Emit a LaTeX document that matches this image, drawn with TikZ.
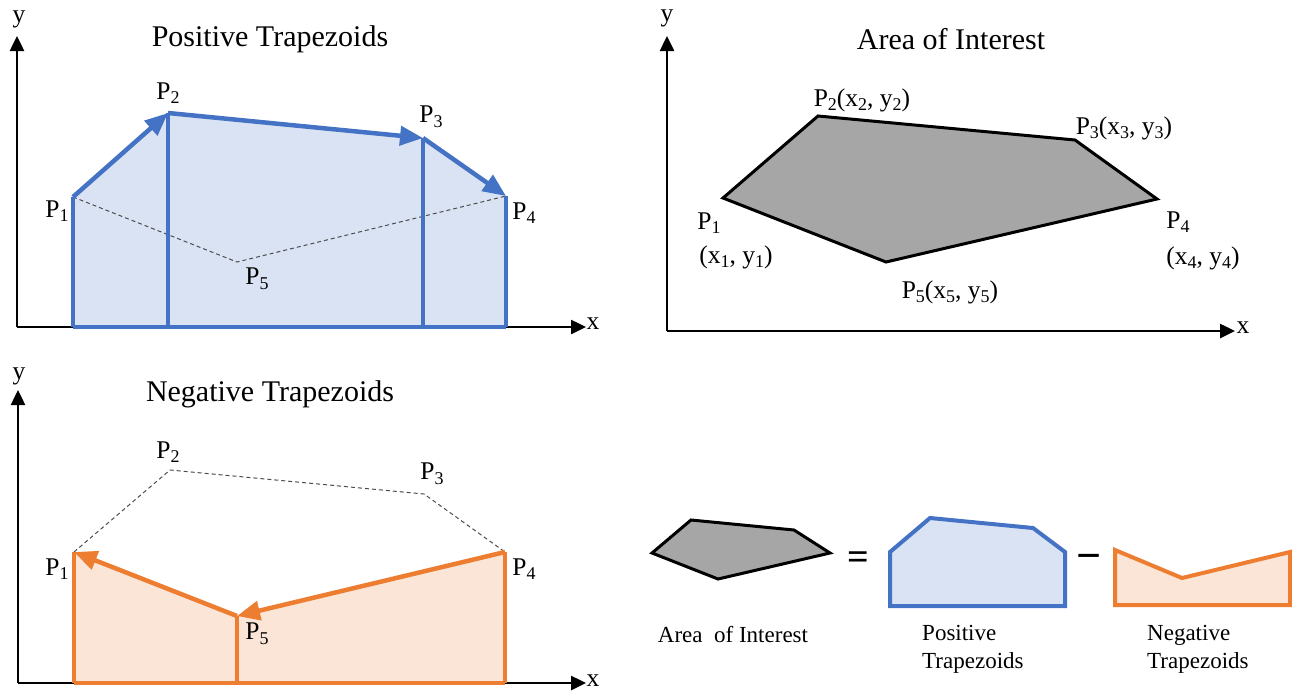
\documentclass[tikz,border=0pt]{standalone}
\usepackage{fontspec}
\setmainfont{Liberation Serif}
\usetikzlibrary{arrows.meta}
\definecolor{pblue}{HTML}{4472C4}
\definecolor{pbluefill}{HTML}{DAE3F3}
\definecolor{porange}{HTML}{ED7D31}
\definecolor{porangefill}{HTML}{FBE5D6}
\definecolor{aoigrey}{HTML}{A6A6A6}
\newcommand{\sbx}[1]{\raisebox{-0.4ex}{\fontsize{18}{18}\selectfont #1}}
\tikzset{
  axis/.style={line width=2.5pt, -{Triangle[length=15pt,width=14pt]}},
  bluearrow/.style={line width=4.5pt, pblue, -{Triangle[length=23pt,width=19pt]}},
  orangearrow/.style={line width=4.5pt, porange, -{Triangle[length=23pt,width=19pt]}},
  blueedge/.style={line width=4pt, pblue},
  orangeedge/.style={line width=4pt, porange},
  guide/.style={line width=1pt, black!70, dash pattern=on 4pt off 3pt},
  title/.style={inner sep=0pt, font=\fontsize{30}{32}\selectfont},
  lbl/.style={inner sep=0pt, font=\fontsize{25.5}{27}\selectfont},
  caption/.style={inner sep=0pt, font=\fontsize{23}{28}\selectfont, align=left},
}
\begin{document}
\begin{tikzpicture}[x=1pt, y=-1pt]
\useasboundingbox (0,0) rectangle (1292,691);

% ================= Top-left: Positive Trapezoids =================
\coordinate (o1) at (17,327);
\coordinate (ya1) at (17,36);
\coordinate (xa1) at (586,327);
\coordinate (a1) at (73,197);
\coordinate (a2) at (168,113);
\coordinate (a3) at (423,138);
\coordinate (a4) at (506,196);
\coordinate (a5) at (237,262);
\coordinate (b1) at (73,327);
\coordinate (b2) at (168,327);
\coordinate (b3) at (423,327);
\coordinate (b4) at (506,327);

\fill[pbluefill] (b1) -- (a1) -- (a2) -- (a3) -- (a4) -- (b4) -- cycle;
\draw[axis] (o1) -- (ya1);
\draw[axis] (o1) -- (xa1);
\draw[guide] (a1) -- (a5) -- (a4);
\draw[blueedge] (b1) -- (b4);
\draw[blueedge] (b1) -- (a1);
\draw[blueedge] (b2) -- (a2);
\draw[blueedge] (b3) -- (a3);
\draw[blueedge] (b4) -- (a4);
\draw[bluearrow] (a1) -- (a2);
\draw[bluearrow] (a2) -- (a3);
\draw[bluearrow] (a3) -- (a4);

\node[lbl] (ty1) at (19,19) {y};
\node[lbl] (tx1) at (593,324) {x};
\node[title] (t1) at (270,39) {Positive Trapezoids};
\node[lbl] (la1) at (57,211) {P\sbx{1}};
\node[lbl] (la2) at (168,93) {P\sbx{2}};
\node[lbl] (la3) at (431,117) {P\sbx{3}};
\node[lbl] (la4) at (524,213) {P\sbx{4}};
\node[lbl] (la5) at (257,279) {P\sbx{5}};

% ================= Top-right: Area of Interest =================
\coordinate (o2) at (667,331);
\coordinate (ya2) at (667,36);
\coordinate (xa2) at (1235,331);
\coordinate (c1) at (723,198);
\coordinate (c2) at (818,116);
\coordinate (c3) at (1075,140);
\coordinate (c4) at (1157,199);
\coordinate (c5) at (886,262);

\draw[axis] (o2) -- (ya2);
\draw[axis] (o2) -- (xa2);
\draw[line width=3pt, fill=aoigrey, line join=miter] (c1) -- (c2) -- (c3) -- (c4) -- (c5) -- cycle;

\node[lbl] (ty2) at (667,18) {y};
\node[lbl] (tx2) at (1243,328) {x};
\node[title] (t2) at (951,39) {Area of Interest};
\node[lbl] (lc2) at (862,100) {P\sbx{2}(x\sbx{2}, y\sbx{2})};
\node[lbl] (lc3) at (1124,128) {P\sbx{3}(x\sbx{3}, y\sbx{3})};
\node[lbl] (lc1) at (709,223) {P\sbx{1}};
\node[lbl] (lc1b) at (736,257) {(x\sbx{1}, y\sbx{1})};
\node[lbl] (lc4) at (1178,222) {P\sbx{4}};
\node[lbl] (lc4b) at (1203,258) {(x\sbx{4}, y\sbx{4})};
\node[lbl] (lc5) at (950,292) {P\sbx{5}(x\sbx{5}, y\sbx{5})};

% ================= Bottom-left: Negative Trapezoids =================
\coordinate (o3) at (18,683);
\coordinate (ya3) at (18,390);
\coordinate (xa3) at (586,683);
\coordinate (d1) at (74,552);
\coordinate (d2) at (170,470);
\coordinate (d3) at (424,494);
\coordinate (d4) at (505,552);
\coordinate (d5) at (237,616);
\coordinate (e1) at (74,683);
\coordinate (e5) at (237,683);
\coordinate (e4) at (505,683);

\fill[porangefill] (e1) -- (d1) -- (d5) -- (d4) -- (e4) -- cycle;
\draw[axis] (o3) -- (ya3);
\draw[axis] (o3) -- (xa3);
\draw[guide] (d1) -- (d2) -- (d3) -- (d4);
\draw[orangeedge] (e1) -- (e4);
\draw[orangeedge] (e1) -- (d1);
\draw[orangeedge] (e5) -- (d5);
\draw[orangeedge] (e4) -- (d4);
\draw[orangearrow] (d4) -- (d5);
\draw[orangearrow] (d5) -- (d1);

\node[lbl] (ty3) at (19,376) {y};
\node[lbl] (tx3) at (593,681) {x};
\node[title] (t3) at (270,394) {Negative Trapezoids};
\node[lbl] (ld1) at (57,569) {P\sbx{1}};
\node[lbl] (ld2) at (168,452) {P\sbx{2}};
\node[lbl] (ld3) at (432,474) {P\sbx{3}};
\node[lbl] (ld4) at (524,569) {P\sbx{4}};
\node[lbl] (ld5) at (257,634) {P\sbx{5}};

% ================= Bottom-right: equation =================
\draw[line width=3pt, fill=aoigrey] (652,553) -- (691,520) -- (794,530) -- (830,553) -- (718,579) -- cycle;
\node[inner sep=0pt, font=\bfseries\fontsize{38}{38}\selectfont] (eq) at (858,561) {=};
\draw[line width=4pt, pblue, fill=pbluefill] (890,606) -- (890,552) -- (930,518) -- (1033,528) -- (1065,552) -- (1065,606) -- cycle;
\node[inner sep=0pt, font=\bfseries\fontsize{44}{44}\selectfont] (mi) at (1089,562) {−};
\draw[line width=4pt, porange, fill=porangefill] (1115,605) -- (1115,550) -- (1182,578) -- (1290,552) -- (1290,605) -- cycle;

\node[caption] (cap1) at (733,635) {Area\ \ of Interest};
\node[caption, anchor=west] (cap2) at (922,649) {Positive\\Trapezoids};
\node[caption, anchor=west] (cap3) at (1147,649) {Negative\\Trapezoids};
\end{tikzpicture}
\end{document}
